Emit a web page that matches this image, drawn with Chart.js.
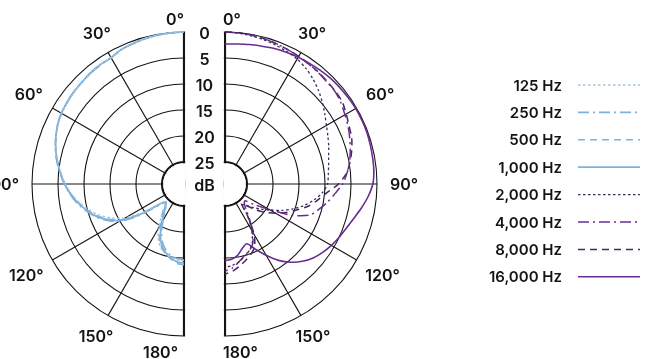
<!DOCTYPE html>
<html>
<head>
<meta charset="utf-8">
<script src="https://cdn.jsdelivr.net/npm/chart.js@4.4.1/dist/chart.umd.min.js"></script>
<style>
  html, body { margin: 0; padding: 0; background: #ffffff; }
  #wrap { position: relative; width: 672px; height: 359px; overflow: hidden; }
  #wrap canvas { position: absolute; left: 0; top: 0; }
</style>
</head>
<body>
<div id="wrap">
  <canvas id="cL" width="672" height="359"></canvas>
  <canvas id="cR" width="672" height="359"></canvas>
</div>
<script>
// ---------- DATA ----------
const angles = [0,5,10,15,20,25,30,35,40,45,50,55,60,65,70,75,80,85,90,95,100,105,110,115,120,125,130,135,140,145,150,155,160,165,170,175,180];
const freqLabels = ['125 Hz','250 Hz','500 Hz','1,000 Hz','2,000 Hz','4,000 Hz','8,000 Hz','16,000 Hz'];
const dbTicks = [0,5,10,15,20,25];
const degreeTicks = [0,30,60,90,120,150,180];

// attenuation in dB (0 = on-axis), left half: low frequencies
const hz125  = [0,0.05,0.15,0.3,0.5,0.7,1.1,1.2,1.4,1.5,1.7,1.9,2.1,2.5,3.1,3.8,4.6,5.5,6.4,7.5,8.8,10.2,11.8,13.8,16.2,20.0,23.6,24.4,23.3,21.6,19.5,17.5,16.2,15.4,14.9,14.6,14.5];
const hz250  = [0,0.05,0.15,0.3,0.5,0.7,1.2,1.3,1.4,1.5,1.6,1.8,2.0,2.4,3.0,3.6,4.4,5.3,6.2,7.2,8.3,9.6,11.0,12.7,14.8,18.6,22.8,24.2,23.8,22.9,21.2,19.0,17.2,16.0,15.2,14.8,14.6];
const hz500  = [0,0.05,0.15,0.3,0.5,0.7,1.2,1.2,1.3,1.5,1.6,1.8,2.0,2.4,3.0,3.7,4.5,5.4,6.3,7.4,8.6,9.9,11.4,13.2,15.5,19.5,23.2,24.4,23.2,21.8,20.0,18.0,16.4,15.4,14.6,13.9,13.7];
const hz1000 = [0,0.05,0.15,0.3,0.5,0.7,1.2,1.2,1.3,1.5,1.6,1.8,2.0,2.4,3.0,3.7,4.5,5.4,6.3,7.3,8.5,9.8,11.2,13.0,15.2,19.2,23.4,24.3,23.6,22.6,20.8,18.5,16.7,15.6,14.8,14.2,14.0];
// right half: high frequencies
const hz2000  = [0,0.1,0.3,0.5,0.8,1.1,1.5,2.1,2.9,3.8,4.8,5.8,6.7,7.4,8.0,8.6,9.0,9.3,9.5,10.4,11.8,13.4,15.3,17.2,19.2,20.8,22.2,23.4,24.0,21.5,19.0,16.8,15.6,14.8,14.0,13.5,13.2];
const hz4000  = [0,0.05,0.15,0.3,0.5,0.7,0.9,1.1,1.3,1.5,1.6,2.0,2.6,3.1,3.7,4.3,4.9,5.7,6.6,8.0,9.2,10.5,11.8,15.0,19.5,22.3,24.2,24.0,23.0,21.0,18.6,16.6,15.6,14.9,14.0,13.0,12.5];
const hz8000  = [0,0.05,0.15,0.3,0.5,0.7,0.9,1.1,1.2,1.4,1.5,1.7,2.3,2.9,3.3,4.0,4.8,5.8,7.4,9.6,11.2,12.7,14.6,16.3,18.0,19.7,21.5,23.4,24.3,21.5,18.0,15.8,14.8,14.0,13.2,12.4,11.9];
const hz16000 = [2.3,2.2,2.0,1.8,1.5,1.3,1.1,0.9,0.7,0.5,0.4,0.3,0.2,0.2,0.2,0.3,0.4,0.5,0.8,1.6,2.6,3.6,4.4,5.0,5.6,6.3,7.1,8.2,9.6,11.3,13.4,15.4,17.0,16.4,15.3,14.7,14.5];

// ---------- STYLE ----------
const BLUE = '#7fb1da', BLUE_LIGHT = '#a3c3dc', PURPLE = '#6b2c91', PURPLE_DARK = '#43295f';
const INK = '#141414';
const FONT = '"Inter", "Roboto", "Liberation Sans", sans-serif';
const rMin = -29.23;          // scale reaches centre at ~29 dB => 25 dB ring leaves a hole
const gapMid = 20.5;          // half the gap between the two half-plots

const step = angles[1] - angles[0];
const nSpokes = 360 / step;
const spokeLabels = Array.from({length: nSpokes}, (_, i) => i * step);

function toSpokes(vals, side) {
  const out = new Array(nSpokes).fill(null);
  angles.forEach((a, k) => {
    const idx = side === 'right' ? a / step : ((360 - a) % 360) / step;
    out[idx] = -vals[k];
  });
  return out;
}

function ds(label, vals, side, color, dash, width) {
  return {
    label, data: toSpokes(vals, side), borderColor: color, backgroundColor: color,
    borderWidth: width, borderDash: dash, fill: false, pointRadius: 0, pointHoverRadius: 0,
    tension: 0.25, spanGaps: false, borderCapStyle: 'butt', borderJoinStyle: 'round'
  };
}

const halfPolar = {
  id: 'halfPolar',
  beforeDraw(chart, args, o) {
    const s = chart.scales.r, ctx = chart.ctx;
    ctx.save();
    ctx.beginPath();
    if (o.side === 'left') ctx.rect(0, 0, s.xCenter + 1.2, chart.height);
    else ctx.rect(s.xCenter - 1.2, 0, chart.width - s.xCenter + 1.2, chart.height);
    ctx.clip();
  },
  beforeDatasetsDraw(chart) {
    const s = chart.scales.r, ctx = chart.ctx;
    const rIn = s.getDistanceFromCenterForValue(-dbTicks[dbTicks.length - 1]);
    ctx.save();
    ctx.fillStyle = '#ffffff';
    ctx.beginPath();
    ctx.arc(s.xCenter, s.yCenter, rIn - 1.2, 0, Math.PI * 2);
    ctx.fill();
    ctx.restore();
  },
  afterDraw(chart, args, o) {
    const s = chart.scales.r, ctx = chart.ctx;
    ctx.restore();
    const R = s.drawingArea;
    ctx.save();
    ctx.fillStyle = INK;
    ctx.font = '600 16px ' + FONT;
    // angle labels
    degreeTicks.forEach(a => {
      const txt = a + '°';
      const w = ctx.measureText(txt).width, h = 12;
      if (a === 0) {
        ctx.textAlign = o.side === 'left' ? 'right' : 'left';
        ctx.textBaseline = 'alphabetic';
        ctx.fillText(txt, s.xCenter + (o.side === 'left' ? 0 : -2), s.yCenter - R - 7);
      } else if (a === 180) {
        ctx.textAlign = o.side === 'left' ? 'right' : 'left';
        ctx.textBaseline = 'alphabetic';
        ctx.fillText(txt, s.xCenter + (o.side === 'left' ? -6 : -2), s.yCenter + R + 22);
      } else {
        const th = a * Math.PI / 180;
        const sn = Math.abs(Math.sin(th));
        const d = R + 9 + 4 * sn * sn + sn * w / 2 + Math.abs(Math.cos(th)) * h / 2;
        const idx = o.side === 'left' ? ((360 - a) % 360) / step : a / step;
        const p = s.getPointPosition(idx, d);
        ctx.textAlign = 'center';
        ctx.textBaseline = 'middle';
        ctx.fillText(txt, p.x, p.y + 1);
      }
    });
    // dB tick labels in the central gap
    if (o.side === 'left') {
      ctx.textAlign = 'center';
      ctx.textBaseline = 'middle';
      dbTicks.forEach(v => {
        const y = s.yCenter - s.getDistanceFromCenterForValue(-v);
        ctx.fillText(String(v), s.xCenter + gapMid, y + 2);
      });
      ctx.fillText('dB', s.xCenter + gapMid, s.yCenter + 2);
    }
    // legend entries for this chart's datasets
    ctx.font = '600 15px ' + FONT;
    chart.data.datasets.forEach((d, i) => {
      const row = o.rowOffset + i;
      const y = 85 + row * 27.4;
      ctx.fillStyle = INK;
      ctx.textAlign = 'right';
      ctx.textBaseline = 'middle';
      ctx.fillText(d.label, 562, y + 1);
      ctx.save();
      ctx.strokeStyle = d.borderColor;
      ctx.lineWidth = d.borderWidth;
      ctx.setLineDash(d.borderDash || []);
      ctx.beginPath();
      ctx.moveTo(578, y);
      ctx.lineTo(640, y);
      ctx.stroke();
      ctx.restore();
    });
    ctx.restore();
  }
};

function radialScale() {
  return {
    min: rMin, max: 0, startAngle: 0,
    afterBuildTicks: sc => { sc.ticks = dbTicks.map(v => ({value: -v})).reverse(); },
    ticks: {display: false},
    pointLabels: {display: false},
    grid: {circular: true, color: INK,
      lineWidth: c => (c.tick && c.tick.value === -dbTicks[dbTicks.length - 1]) ? 2.2 : 1.1},
    angleLines: {color: INK,
      lineWidth: c => {
        const a = spokeLabels[c.index];
        if (a % 180 === 0) return 2.2;
        return a % 30 === 0 ? 1.1 : 0;
      }}
  };
}

function makeChart(id, side, datasets, pad, rowOffset) {
  return new Chart(document.getElementById(id), {
    type: 'radar',
    data: {labels: spokeLabels, datasets},
    options: {
      responsive: false, animation: false, events: [],
      layout: {padding: pad},
      plugins: {legend: {display: false}, tooltip: {enabled: false},
                halfPolar: {side, rowOffset}},
      scales: {r: radialScale()}
    },
    plugins: [halfPolar]
  });
}

makeChart('cL', 'left', [
  ds(freqLabels[0], hz125,  'left', BLUE_LIGHT, [2.5, 2.5], 1.4),
  ds(freqLabels[1], hz250,  'left', BLUE, [11, 4, 2, 4], 1.6),
  ds(freqLabels[2], hz500,  'left', BLUE, [7, 5], 1.6),
  ds(freqLabels[3], hz1000, 'left', BLUE, [], 1.8)
], {left: 32, right: 336, top: 32, bottom: 23}, 0);

makeChart('cR', 'right', [
  ds(freqLabels[4], hz2000,  'right', PURPLE_DARK, [2.5, 2.5], 1.3),
  ds(freqLabels[5], hz4000,  'right', PURPLE, [11, 4, 2, 4], 1.5),
  ds(freqLabels[6], hz8000,  'right', PURPLE_DARK, [7, 5], 1.5),
  ds(freqLabels[7], hz16000, 'right', PURPLE, [], 1.6)
], {left: 73, right: 295, top: 32, bottom: 23}, 4);
</script>
</body>
</html>
